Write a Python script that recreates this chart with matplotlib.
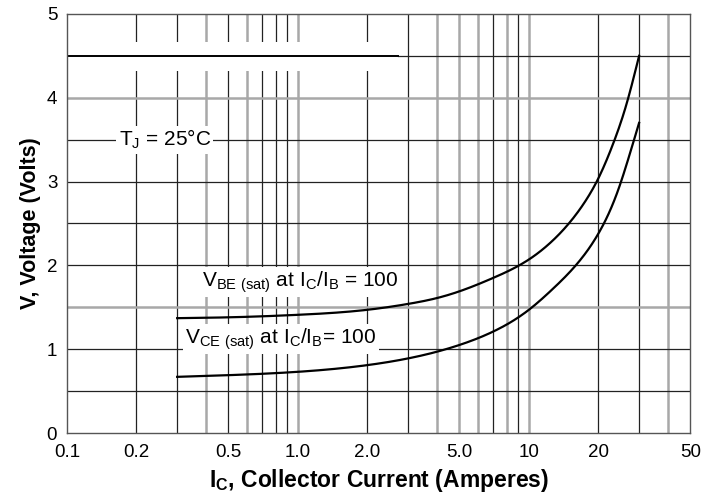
import numpy as np
import matplotlib
matplotlib.use('Agg')
from matplotlib import pyplot as plt

plt.rcParams['font.family'] = ['Liberation Sans', 'DejaVu Sans']
plt.rcParams['mathtext.fontset'] = 'custom'
plt.rcParams['mathtext.rm'] = 'Liberation Sans'
plt.rcParams['mathtext.bf'] = 'Liberation Sans:bold'

# curve data (Ic in A, V in volts)
ic_vbe = [0.3, 0.5, 1.0, 2.0, 3.0, 4.0, 5.0, 7.0, 10.0, 12.5, 15.0, 17.5, 20.0, 23.0, 26.5, 30.0]
v_vbe = [1.37, 1.38, 1.41, 1.47, 1.54, 1.61, 1.69, 1.85, 2.07, 2.28, 2.51, 2.76, 3.04, 3.43, 3.93, 4.5]
ic_vce = [0.3, 0.5, 1.0, 2.0, 3.0, 4.0, 5.0, 7.0, 10.0, 12.7, 16.3, 20.0, 22.0, 24.5, 27.0, 30.0]
v_vce = [0.67, 0.69, 0.73, 0.81, 0.89, 0.97, 1.05, 1.21, 1.47, 1.72, 2.03, 2.38, 2.6, 2.92, 3.28, 3.7]

x_ticks = [0.1, 0.2, 0.5, 1.0, 2.0, 5.0, 10, 20, 50]
x_labels = ['0.1', '0.2', '0.5', '1.0', '2.0', '5.0', '10', '20', '50']
y_ticks = [0, 1, 2, 3, 4, 5]

# grid lines, some darker some lighter like the scanned sheet
vgrid = [0.2, 0.3, 0.4, 0.5, 0.6, 0.7, 0.8, 0.9, 1.0,
         2, 3, 4, 5, 6, 7, 8, 9, 10, 20, 30, 40]
vgray = [0.4, 0.6, 1.0, 4, 5, 6, 8, 10, 40]
hgrid = [0.5, 1.0, 1.5, 2.0, 2.5, 3.0, 3.5, 4.0]
hgray = [1.5, 4.0]


# natural cubic spline through the read points (log x), just for a smooth stroke
def smooth(xs, ys, n=500):
    u = np.log10(np.asarray(xs, float))
    y = np.asarray(ys, float)
    k = len(u)
    h = np.diff(u)
    A = np.zeros((k, k))
    r = np.zeros(k)
    A[0, 0] = A[-1, -1] = 1
    for i in range(1, k - 1):
        A[i, i - 1] = h[i - 1]
        A[i, i] = 2 * (h[i - 1] + h[i])
        A[i, i + 1] = h[i]
        r[i] = 6 * ((y[i + 1] - y[i]) / h[i] - (y[i] - y[i - 1]) / h[i - 1])
    M = np.linalg.solve(A, r)
    t = np.linspace(u[0], u[-1], n)
    j = np.clip(np.searchsorted(u, t) - 1, 0, k - 2)
    a = u[j + 1] - t
    b = t - u[j]
    hj = h[j]
    yy = (M[j] * a**3 / (6 * hj) + M[j + 1] * b**3 / (6 * hj)
          + (y[j] / hj - M[j] * hj / 6) * a + (y[j + 1] / hj - M[j + 1] * hj / 6) * b)
    return 10**t, yy


fig = plt.figure(figsize=(7.02, 4.96), dpi=100)
ax = fig.add_axes([0.0954, 0.127, 0.888, 0.845])
ax.set_xscale('log')
ax.set_xlim(0.1, 50)
ax.set_ylim(0, 5)

for x in vgrid:
    if x in vgray:
        ax.axvline(x, color='#a8a8a8', lw=1.8, zorder=1)
    else:
        ax.axvline(x, color='#222222', lw=0.9, zorder=1)
for y in hgrid:
    if y in hgray:
        ax.axhline(y, color='#a8a8a8', lw=1.8, zorder=1)
    else:
        ax.axhline(y, color='#222222', lw=0.9, zorder=1)

# gap in the grid round the 4.5 V line
ax.fill_between([0.16, 2.6], 4.32, 4.66, color='white', lw=0, zorder=2)
ax.plot([0.1, 2.7], [4.5, 4.5], color='black', lw=1.4, zorder=3)
ax.plot([2.7, 50], [4.5, 4.5], color='#222222', lw=0.9, zorder=1)

xs, ys = smooth(ic_vbe, v_vbe)
ax.plot(xs, ys, color='black', lw=1.6, zorder=5)
xs, ys = smooth(ic_vce, v_vce)
ax.plot(xs, ys, color='black', lw=1.6, zorder=5)

box = dict(facecolor='white', edgecolor='none', pad=1.5)
ax.text(0.265, 3.5, r'T$_\mathregular{J}$ = 25°C', fontsize=15, ha='center', va='center',
        bbox=box, zorder=4)
ax.text(0.385, 1.8, r'V$_{\mathregular{BE\ }{\mathregular{(sat)}}}$ at I$_\mathregular{C}$/I$_\mathregular{B}$ = 100',
        fontsize=15, ha='left', va='center', bbox=box, zorder=4)
ax.text(0.325, 1.12, r'V$_{\mathregular{CE\ }{\mathregular{(sat)}}}$ at I$_\mathregular{C}$/I$_\mathregular{B}$= 100',
        fontsize=15, ha='left', va='center', bbox=box, zorder=4)

ax.set_xticks(x_ticks)
ax.set_xticklabels(x_labels)
ax.xaxis.set_minor_locator(matplotlib.ticker.NullLocator())
ax.set_yticks(y_ticks)
ax.tick_params(length=0, labelsize=13.5)
ax.tick_params(axis='x', pad=8)
ax.tick_params(axis='y', pad=7)
for s in ax.spines.values():
    s.set_color('#555555')
    s.set_linewidth(1.0)
    s.set_zorder(6)

ax.set_xlabel(r'I$_\mathbf{C}$, Collector Current (Amperes)', fontsize=16.5, fontweight='bold', labelpad=4)
ax.set_ylabel('V, Voltage (Volts)', fontsize=15.5, fontweight='bold', labelpad=4)

plt.savefig('out.png', dpi=100)
